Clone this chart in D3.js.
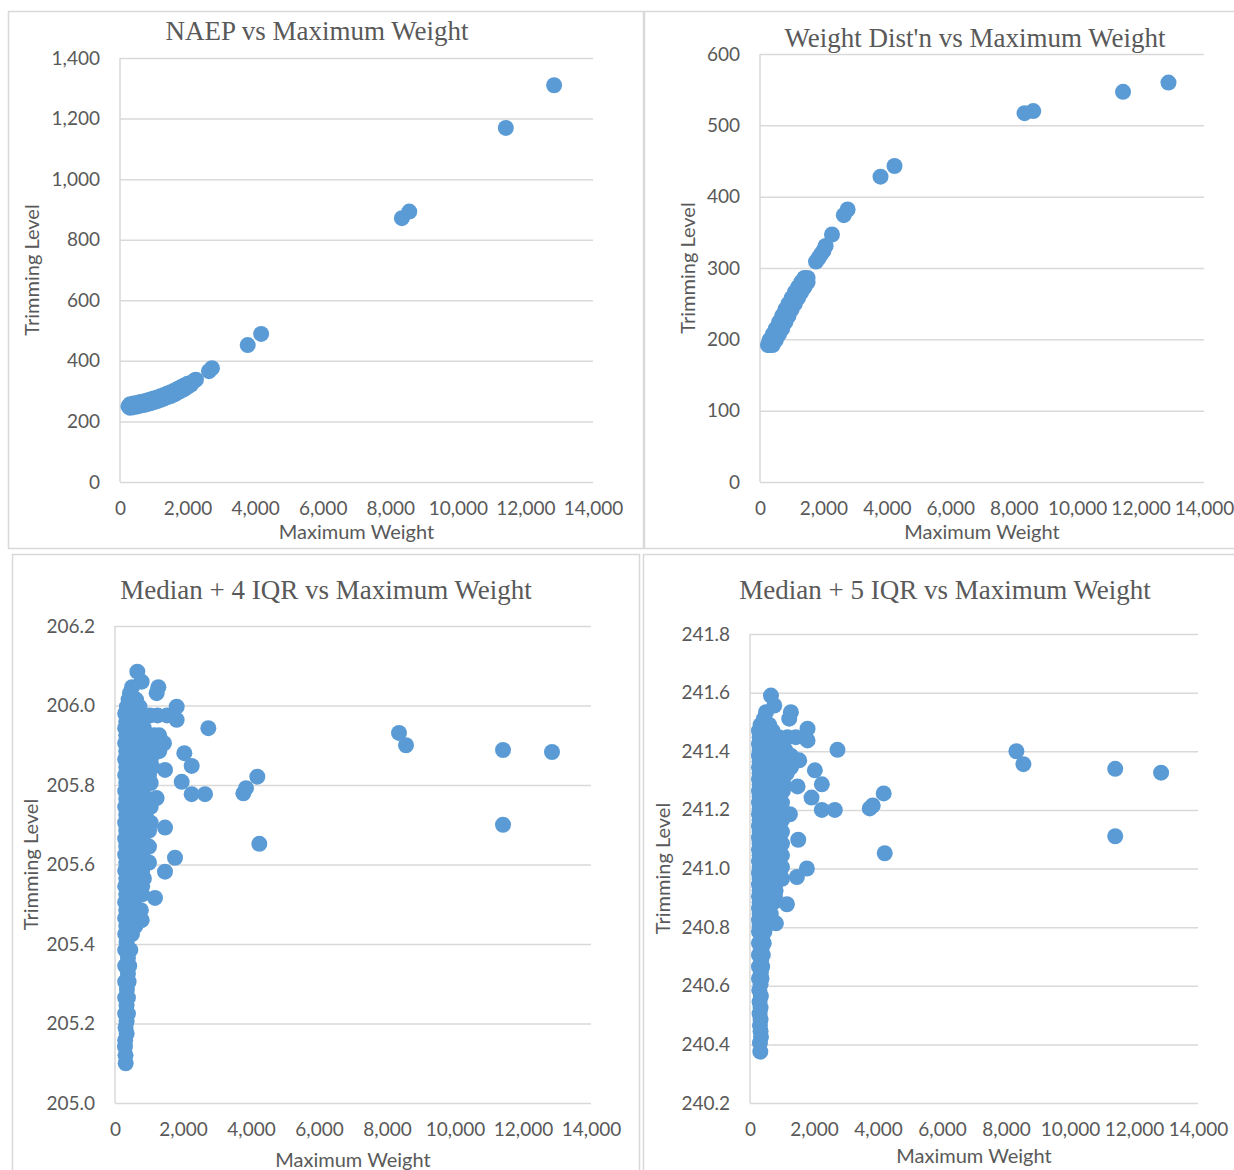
<!DOCTYPE html>
<html>
<head>
<meta charset="utf-8">
<script src="https://cdn.jsdelivr.net/npm/d3@7"></script>
<style>
  body { margin: 0; background: #fff; }
  svg text { fill: #595959; }
</style>
</head>
<body>
<div id="chart"></div>
<script>
/* =========================
   DATA
   ========================= */

const titles = [
  "NAEP vs Maximum Weight",
  "Weight Dist'n vs Maximum Weight",
  "Median + 4 IQR vs Maximum Weight",
  "Median + 5 IQR vs Maximum Weight"
];

const xTitle = "Maximum Weight";
const yTitle = "Trimming Level";

const weightTicks = [0, 2000, 4000, 6000, 8000, 10000, 12000, 14000];
const naepTicks = [0, 200, 400, 600, 800, 1000, 1200, 1400];
const distTicks = [0, 100, 200, 300, 400, 500, 600];
const iqr4Ticks = [205.0, 205.2, 205.4, 205.6, 205.8, 206.0, 206.2];
const iqr5Ticks = [240.2, 240.4, 240.6, 240.8, 241.0, 241.2, 241.4, 241.6, 241.8];

// [maximum weight, trimming level]
const naepPoints = [
  [250, 250], [300, 245], [300, 251], [300, 257], [400, 247], [400, 253], [400, 259],
  [500, 249], [500, 255], [500, 261], [600, 252], [600, 258], [600, 264],
  [700, 254], [700, 260], [700, 266], [800, 257], [800, 263], [800, 269],
  [900, 260], [900, 266], [900, 272], [1000, 264], [1000, 270], [1000, 276],
  [1100, 267], [1100, 273], [1100, 279], [1200, 271], [1200, 277], [1200, 283],
  [1300, 275], [1300, 281], [1300, 287], [1400, 280], [1400, 286], [1400, 292],
  [1500, 284], [1500, 290], [1500, 296], [1600, 289], [1600, 295], [1600, 301],
  [1700, 295], [1700, 301], [1700, 307], [1800, 301], [1800, 307], [1800, 313],
  [1900, 307], [1900, 313], [1900, 319], [2000, 314], [2000, 319], [2000, 324],
  [2100, 322], [2100, 327], [2200, 335], [2248, 338],
  [2633, 366], [2722, 376],
  [3780, 452], [4178, 489], [8343, 871], [8562, 893], [11420, 1169], [12849, 1310]
];

const distPoints = [
  [250, 192], [300, 192], [400, 192], [300, 199], [400, 199], [500, 199],
  [400, 207], [500, 207], [600, 207], [500, 215], [600, 215], [700, 215],
  [600, 224], [700, 224], [800, 224], [700, 233], [800, 233], [900, 233],
  [800, 242], [900, 242], [1000, 242], [900, 250], [1000, 250], [1100, 250],
  [1000, 258], [1100, 258], [1200, 258], [1100, 266], [1200, 266], [1300, 266],
  [1200, 273], [1300, 273], [1400, 273], [1300, 280], [1400, 280], [1500, 280],
  [1400, 286], [1500, 286],
  [1766, 309], [1850, 314], [1920, 319], [2000, 324], [2069, 331],
  [2270, 347], [2643, 374], [2763, 382], [3800, 428], [4242, 443],
  [8341, 517], [8616, 520], [11447, 547], [12880, 560]
];

// rows: [trimming level, maximum weights...]
const iqr4Rows = [
  [206.085, 657], [206.06, 784], [206.046, 1275, 500], [206.031, 1225, 440],
  [206.015, 400, 620], [205.997, 1814, 350, 560, 720], [205.98, 300, 480, 650],
  [205.975, 900, 1030, 1250, 1530], [205.964, 1814], [205.96, 330, 550, 720],
  [205.943, 2745, 300, 500, 700, 850], [205.925, 330, 650, 900, 1150, 1300],
  [205.905, 300, 550, 800, 1050, 1300, 1440], [205.885, 330, 650, 900, 1150, 1300],
  [205.88, 2039], [205.865, 300, 550, 800, 1050], [205.848, 2255],
  [205.845, 330, 650, 900, 1100], [205.838, 1471], [205.825, 300, 550, 800, 1000],
  [205.821, 4186], [205.808, 1961], [205.805, 330, 650, 900, 1050],
  [205.792, 3853], [205.785, 300, 550, 800], [205.779, 3775], [205.777, 2255, 2647],
  [205.767, 1225], [205.765, 330, 650, 900, 1000], [205.745, 300, 550, 800, 1050],
  [205.725, 330, 650, 900], [205.705, 300, 550, 800, 1050], [205.693, 1471],
  [205.685, 330, 650, 900, 1000], [205.665, 300, 550, 800], [205.652, 4245],
  [205.645, 330, 650, 900, 1000], [205.625, 300, 550, 800], [205.617, 1765],
  [205.605, 330, 650, 900, 1000], [205.585, 300, 550, 800], [205.582, 1471],
  [205.565, 330, 650, 850], [205.545, 300, 550, 800], [205.525, 330, 650, 800],
  [205.516, 1176], [205.505, 300, 550], [205.485, 330, 650, 760], [205.465, 300, 550],
  [205.46, 785], [205.445, 330, 600], [205.425, 300, 500], [205.405, 340],
  [205.385, 300, 450], [205.365, 380], [205.345, 300, 420], [205.325, 380],
  [205.305, 300, 400], [205.285, 350], [205.265, 300, 380], [205.245, 340],
  [205.225, 300, 380], [205.205, 340], [205.19, 310], [205.175, 343], [205.158, 300],
  [205.142, 294], [205.12, 310], [205.1, 314],
  [205.931, 8353], [205.90, 8559], [205.888, 11412], [205.70, 11412], [205.883, 12853]
];

const iqr5Rows = [
  [241.59, 655], [241.556, 758], [241.533, 1278, 500], [241.511, 1226, 437],
  [241.49, 330, 600], [241.477, 1798], [241.47, 280, 480, 700],
  [241.448, 1174, 1434, 300, 650, 900], [241.437, 1798], [241.425, 280, 530, 780],
  [241.405, 2734, 300, 650, 900, 1100], [241.385, 280, 530, 780, 1030, 1280],
  [241.369, 1538], [241.365, 300, 650, 900, 1150, 1400],
  [241.345, 280, 530, 780, 1030, 1280], [241.335, 2027], [241.325, 300, 650, 900, 1150],
  [241.305, 280, 530, 780, 1030], [241.287, 2245], [241.285, 300, 650, 900, 1050],
  [241.28, 1486], [241.265, 280, 530, 780, 1030], [241.256, 4178],
  [241.245, 300, 650, 900], [241.242, 1923], [241.225, 280, 530, 780, 1000],
  [241.215, 3835], [241.205, 3742, 300, 650, 900], [241.2, 2245, 2650],
  [241.185, 1247, 280, 530, 780], [241.165, 300, 650, 900, 1000], [241.145, 280, 530, 780],
  [241.125, 300, 650, 900, 1000], [241.105, 280, 530, 780], [241.098, 1507],
  [241.085, 300, 650, 900, 1000], [241.065, 280, 530, 780], [241.052, 4210],
  [241.045, 300, 650, 900, 1000], [241.025, 280, 530, 780], [241.0, 1777],
  [241.005, 300, 650, 900, 1000], [240.985, 280, 530, 780], [240.971, 1466],
  [240.965, 300, 650, 900, 1000], [240.945, 280, 530, 780], [240.925, 300, 650, 800],
  [240.905, 280, 530, 780], [240.885, 300, 650, 750], [240.878, 1154],
  [240.865, 280, 530], [240.845, 300, 650], [240.825, 280, 530], [240.813, 810],
  [240.805, 300, 500], [240.785, 280, 450], [240.765, 380], [240.745, 280, 430],
  [240.725, 360], [240.705, 280, 400], [240.685, 350], [240.665, 280, 380],
  [240.645, 340], [240.625, 280, 360], [240.605, 330], [240.585, 290],
  [240.565, 340], [240.545, 300], [240.525, 330], [240.505, 300], [240.485, 330],
  [240.465, 310], [240.445, 330], [240.425, 343], [240.405, 310], [240.375, 322],
  [241.40, 8325], [241.356, 8544], [241.34, 11413], [241.11, 11413], [241.327, 12847]
];

const rowsToPoints = rows => rows.flatMap(([lvl, ...ws]) => ws.map(w => [w, lvl]));

/* =========================
   LAYOUT
   ========================= */

const WIDTH = 1234;
const HEIGHT = 1170;
const R = 8;
const BLUE = "#5B9BD5";
const GRID = "#D9D9D9";
const TICK_FONT = "Lato, 'Open Sans', sans-serif";
const TITLE_FONT = "'Liberation Serif', 'Times New Roman', serif";

const panels = [
  {
    title: titles[0], points: naepPoints, yTicks: naepTicks, yFormat: d3.format(","),
    frame: [8, 11, 635, 537], plot: { l: 120, r: 593, t: 58, b: 482 },
    titleX: 317, titleY: 40, xTitleY: 539, yTitleX: 32
  },
  {
    title: titles[1], points: distPoints, yTicks: distTicks, yFormat: d3.format("d"),
    frame: [644, 11, 620, 537], plot: { l: 760, r: 1204, t: 54, b: 482 },
    titleX: 975, titleY: 47, xTitleY: 539, yTitleX: 688
  },
  {
    title: titles[2], points: rowsToPoints(iqr4Rows), yTicks: iqr4Ticks, yFormat: d3.format(".1f"),
    frame: [12, 554, 627, 640], plot: { l: 115, r: 591, t: 626, b: 1103 },
    titleX: 326, titleY: 599, xTitleY: 1167, yTitleX: 31
  },
  {
    title: titles[3], points: rowsToPoints(iqr5Rows), yTicks: iqr5Ticks, yFormat: d3.format(".1f"),
    frame: [643, 554, 620, 640], plot: { l: 750, r: 1198, t: 634, b: 1103 },
    titleX: 945, titleY: 599, xTitleY: 1163, yTitleX: 663
  }
];

/* =========================
   SVG
   ========================= */

const svg = d3.select("#chart")
  .append("svg")
  .attr("width", WIDTH)
  .attr("height", HEIGHT);

svg.append("rect")
  .attr("width", WIDTH)
  .attr("height", HEIGHT)
  .attr("fill", "#fff");

panels.forEach(p => {
  const g = svg.append("g");
  const w = p.plot.r - p.plot.l;

  // frame
  g.append("rect")
    .attr("x", p.frame[0] + 0.5)
    .attr("y", p.frame[1] + 0.5)
    .attr("width", p.frame[2])
    .attr("height", p.frame[3])
    .attr("fill", "none")
    .attr("stroke", GRID)
    .attr("stroke-width", 1.5);

  const x = d3.scaleLinear()
    .domain([weightTicks[0], weightTicks[weightTicks.length - 1]])
    .range([p.plot.l, p.plot.r]);

  const y = d3.scaleLinear()
    .domain([p.yTicks[0], p.yTicks[p.yTicks.length - 1]])
    .range([p.plot.b, p.plot.t]);

  // gridlines + y labels
  const yAxis = g.append("g")
    .attr("transform", `translate(${p.plot.l},0)`)
    .call(d3.axisLeft(y)
      .tickValues(p.yTicks)
      .tickFormat(p.yFormat)
      .tickSizeInner(-w)
      .tickSizeOuter(0)
      .tickPadding(20));
  yAxis.select(".domain").remove();
  yAxis.selectAll("line").attr("stroke", GRID).attr("stroke-width", 1.5);
  yAxis.selectAll("text")
    .attr("fill", "#595959")
    .style("font-family", TICK_FONT)
    .style("font-size", "19px");

  // vertical axis line
  g.append("line")
    .attr("x1", p.plot.l).attr("x2", p.plot.l)
    .attr("y1", p.plot.t).attr("y2", p.plot.b)
    .attr("stroke", GRID)
    .attr("stroke-width", 1.5);

  // x labels
  const xAxis = g.append("g")
    .attr("transform", `translate(0,${p.plot.b})`)
    .call(d3.axisBottom(x)
      .tickValues(weightTicks)
      .tickFormat(d3.format(","))
      .tickSize(0)
      .tickPadding(20));
  xAxis.select(".domain").remove();
  xAxis.selectAll("text")
    .attr("fill", "#595959")
    .style("font-family", TICK_FONT)
    .style("font-size", "19px");

  // points
  g.append("g")
    .selectAll("circle")
    .data(p.points)
    .enter()
    .append("circle")
    .attr("cx", d => x(d[0]))
    .attr("cy", d => y(d[1]))
    .attr("r", R)
    .attr("fill", BLUE);

  // titles
  g.append("text")
    .attr("x", p.titleX)
    .attr("y", p.titleY)
    .attr("text-anchor", "middle")
    .style("font-family", TITLE_FONT)
    .style("font-size", "27px")
    .text(p.title);

  g.append("text")
    .attr("x", (p.plot.l + p.plot.r) / 2)
    .attr("y", p.xTitleY)
    .attr("text-anchor", "middle")
    .style("font-family", TICK_FONT)
    .style("font-size", "20px")
    .text(xTitle);

  g.append("text")
    .attr("transform", `translate(${p.yTitleX},${(p.plot.t + p.plot.b) / 2}) rotate(-90)`)
    .attr("text-anchor", "middle")
    .attr("dy", "0.35em")
    .style("font-family", TICK_FONT)
    .style("font-size", "20px")
    .text(yTitle);
});
</script>
</body>
</html>
